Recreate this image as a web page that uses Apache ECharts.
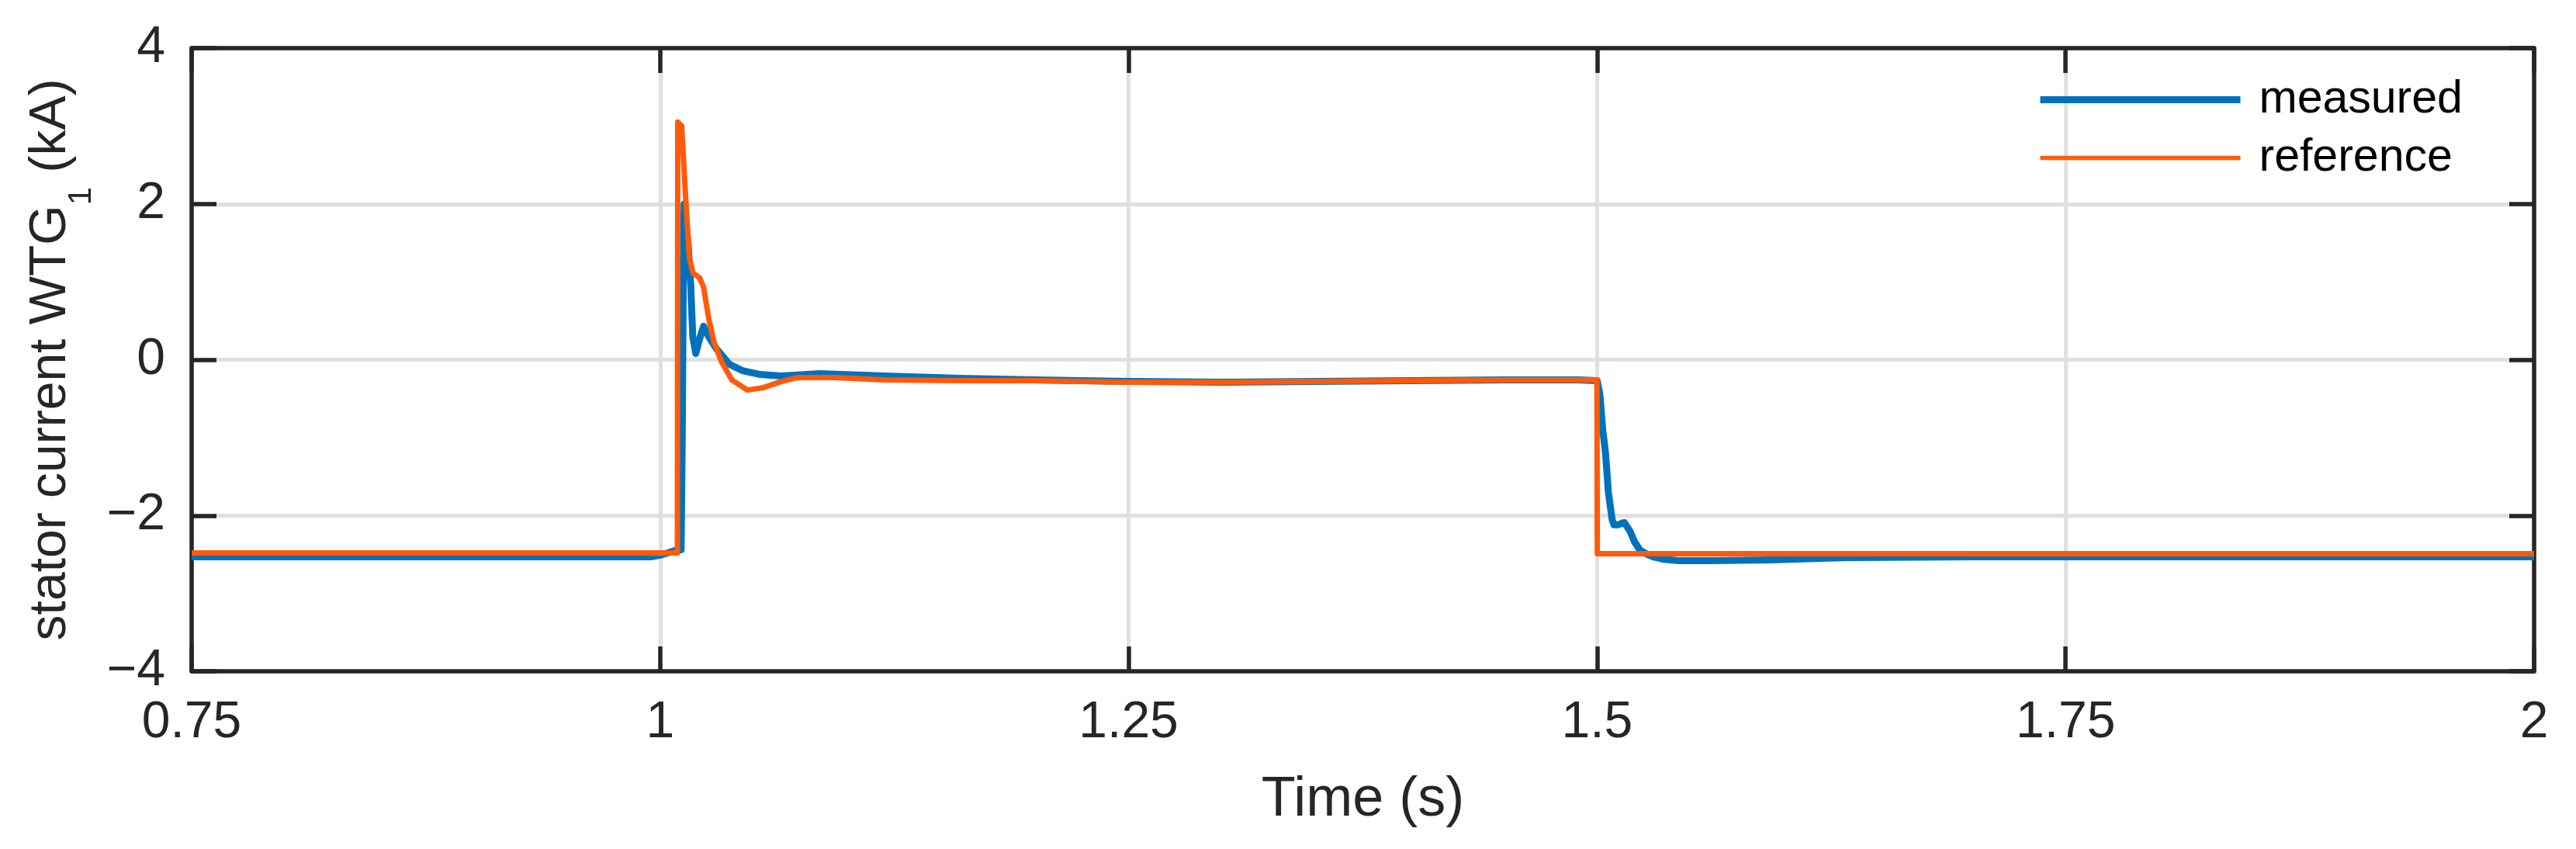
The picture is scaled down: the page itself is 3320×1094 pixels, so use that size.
<!DOCTYPE html>
<html>
<head>
<meta charset="utf-8">
<script src="https://cdn.jsdelivr.net/npm/echarts@6/dist/echarts.min.js"></script>
<style>
html,body{margin:0;padding:0;background:#fff;}
#chart{width:3320px;height:1094px;}
</style>
</head>
<body>
<div id="chart"></div>
<script>
// ---- data (time in s, current in kA) ----
const measuredT = [0.75, 0.98, 0.9955, 1.000, 1.004, 1.008, 1.0112, 1.0118, 1.0124, 1.0128, 1.0150, 1.0163, 1.0174, 1.0190, 1.0211, 1.0232, 1.0258, 1.0300, 1.0370, 1.0439, 1.0535, 1.0646, 1.0853, 1.1198, 1.16, 1.20, 1.25, 1.30, 1.35, 1.40, 1.45, 1.49, 1.500, 1.5015, 1.503, 1.5045, 1.506, 1.508, 1.509, 1.511, 1.5145, 1.5175, 1.5200, 1.5228, 1.5260, 1.5297, 1.5350, 1.5435, 1.5600, 1.5918, 1.633, 1.70, 1.80, 2.00];
const measuredI = [-2.53, -2.53, -2.53, -2.51, -2.48, -2.45, -2.44, -1.00, 1.20, 2.00, 1.46, 0.97, 0.30, 0.08, 0.27, 0.43, 0.30, 0.14, -0.06, -0.14, -0.19, -0.21, -0.18, -0.21, -0.24, -0.26, -0.28, -0.29, -0.28, -0.27, -0.26, -0.26, -0.27, -0.45, -0.90, -1.20, -1.70, -2.05, -2.12, -2.12, -2.09, -2.20, -2.34, -2.44, -2.49, -2.53, -2.56, -2.58, -2.58, -2.57, -2.54, -2.53, -2.53, -2.53];
const referenceT = [0.75, 1.0092, 1.0094, 1.0115, 1.0135, 1.0156, 1.0176, 1.0211, 1.0232, 1.0259, 1.0287, 1.0328, 1.0383, 1.0466, 1.0549, 1.0646, 1.0728, 1.0930, 1.1198, 1.16, 1.20, 1.25, 1.30, 1.35, 1.40, 1.45, 1.4999, 1.5001, 2.00];
const referenceI = [-2.48, -2.48, 3.05, 3.00, 2.13, 1.30, 1.11, 1.05, 0.93, 0.53, 0.23, -0.03, -0.26, -0.39, -0.36, -0.28, -0.23, -0.23, -0.26, -0.27, -0.27, -0.29, -0.29, -0.28, -0.27, -0.26, -0.26, -2.49, -2.49];
const xTicks = {min: 0.75, max: 2, step: 0.25};
const yTicks = {min: -4, max: 4, step: 2};
const seriesNames = ['measured', 'reference'];

const toPairs = (t, v) => t.map((x, i) => [x, v[i]]);
const FONT = '"Liberation Sans", Arial, Helvetica, sans-serif';
const INK = '#262626';
const BORDER = 5.5;
const TICK = {show: true, inside: true, length: 32, lineStyle: {color: INK, width: BORDER}};

const chart = echarts.init(document.getElementById('chart'), null, {renderer: 'canvas'});
chart.setOption({
  animation: false,
  backgroundColor: '#fff',
  textStyle: {fontFamily: FONT},
  grid: {left: 247, right: 54, top: 62, bottom: 229, containLabel: false},
  legend: {
    orient: 'vertical',
    left: 2625, top: 99,
    itemWidth: 258, itemHeight: 40, itemGap: 16,
    padding: 0,
    textStyle: {fontFamily: FONT, fontSize: 59, color: '#000', lineHeight: 40, padding: [0, 0, 0, 19]},
    data: [
      {name: seriesNames[0], itemStyle: {opacity: 0}, lineStyle: {width: 9, color: '#0072BD'}},
      {name: seriesNames[1], itemStyle: {opacity: 0}, lineStyle: {width: 5.5, color: '#FF5A0A'}}
    ]
  },
  xAxis: [{
    type: 'value', position: 'bottom',
    min: xTicks.min, max: xTicks.max, interval: xTicks.step,
    axisLine: {show: true, onZero: false, lineStyle: {color: INK, width: BORDER}},
    axisTick: TICK,
    splitLine: {show: true, lineStyle: {color: '#E0E0E0', width: 5}},
    axisLabel: {fontFamily: FONT, fontSize: 66, color: INK, margin: 34},
    name: 'Time (s)', nameLocation: 'middle', nameGap: 130,
    nameTextStyle: {fontFamily: FONT, fontSize: 72, color: INK}
  }, {
    type: 'value', position: 'top',
    min: xTicks.min, max: xTicks.max, interval: xTicks.step,
    axisLine: {show: true, onZero: false, lineStyle: {color: INK, width: BORDER}},
    axisTick: TICK, axisLabel: {show: false}, splitLine: {show: false}
  }],
  yAxis: [{
    type: 'value', position: 'left',
    min: yTicks.min, max: yTicks.max, interval: yTicks.step,
    axisLine: {show: true, onZero: false, lineStyle: {color: INK, width: BORDER}},
    axisTick: TICK,
    splitLine: {show: true, lineStyle: {color: '#E0E0E0', width: 5}},
    axisLabel: {fontFamily: FONT, fontSize: 66, color: INK, margin: 34,
      formatter: v => (v < 0 ? '\u2212' + Math.abs(v) : String(v))},
    name: '{a|stator current WTG}{s|1}{a| (kA)}',
    nameLocation: 'middle', nameGap: 120,
    nameTextStyle: {
      fontFamily: FONT, color: INK,
      rich: {
        a: {fontFamily: FONT, fontSize: 66, lineHeight: 66, color: INK, verticalAlign: 'top'},
        s: {fontFamily: FONT, fontSize: 42, lineHeight: 42, color: INK, verticalAlign: 'top', padding: [52, 0, 0, 0]}
      }
    }
  }, {
    type: 'value', position: 'right',
    min: yTicks.min, max: yTicks.max, interval: yTicks.step,
    axisLine: {show: true, onZero: false, lineStyle: {color: INK, width: BORDER}},
    axisTick: TICK, axisLabel: {show: false}, splitLine: {show: false}
  }],
  series: [{
    name: seriesNames[0], type: 'line', xAxisIndex: 0, yAxisIndex: 0,
    data: toPairs(measuredT, measuredI),
    symbol: 'none', showSymbol: false,
    lineStyle: {color: '#0072BD', width: 9, join: 'round'},
    itemStyle: {color: '#0072BD'},
    z: 2
  }, {
    name: seriesNames[1], type: 'line', xAxisIndex: 0, yAxisIndex: 0,
    data: toPairs(referenceT, referenceI),
    symbol: 'none', showSymbol: false,
    lineStyle: {color: '#FF5A0A', width: 7, join: 'round'},
    itemStyle: {color: '#FF5A0A'},
    z: 3
  }]
});
</script>
</body>
</html>
